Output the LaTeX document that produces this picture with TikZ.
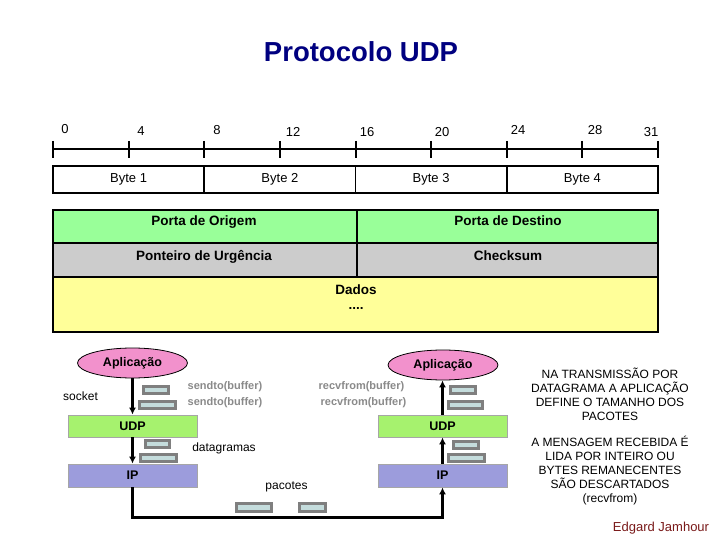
\documentclass[tikz,border=0pt]{standalone}
\usepackage{fontspec}
\setmainfont{Liberation Sans}
\usetikzlibrary{shapes.geometric,arrows.meta}
\definecolor{titleblue}{HTML}{000080}
\definecolor{rowgreen}{HTML}{99FF99}
\definecolor{rowgray}{HTML}{CCCCCC}
\definecolor{rowyellow}{HTML}{FFFF99}
\definecolor{udpgreen}{HTML}{A6F26E}
\definecolor{ipblue}{HTML}{9C9CDC}
\definecolor{apppink}{HTML}{F291CC}
\definecolor{pktfill}{HTML}{C4DCDC}
\definecolor{pktborder}{HTML}{7F7F7F}
\definecolor{callgray}{HTML}{8A8A8A}
\definecolor{authred}{HTML}{7A1A1A}
\tikzset{
  fsz/.style={font=\fontsize{#1}{#1}\selectfont},
  bytebox/.style={draw, line width=1.5pt, minimum width=151.25pt, minimum height=27pt, inner sep=0pt, fsz=13},
  field/.style={draw, line width=1.5pt, minimum height=33pt, inner sep=0pt},
  fieldtxt/.style={inner sep=0pt, text height=9.7pt, text depth=0pt, font=\fontsize{13.5}{14}\selectfont\bfseries},
  layer/.style={draw=gray!70, line width=0.8pt, minimum width=129pt, inner sep=0pt, font=\fontsize{12.5}{12.5}\selectfont\bfseries},
  appnode/.style={ellipse, draw, line width=0.8pt, fill=apppink, minimum width=110pt, minimum height=30pt, inner sep=0pt, font=\fontsize{12.5}{12.5}\selectfont\bfseries},
  pkt/.style={draw=pktborder, line width=3.2pt, fill=pktfill, inner sep=0pt, minimum height=7pt},
  arr/.style={line width=2.4pt, -{Latex[length=7pt,width=7pt]}},
  call/.style={text=callgray, font=\fontsize{11}{11}\selectfont\bfseries},
  plain/.style={fsz=12},
  tick/.style={line width=2pt},
}
\begin{document}
\begin{tikzpicture}[x=1pt,y=-1pt]
\useasboundingbox[fill=white] (0,0) rectangle (720,540);
% title
\node[text=titleblue, inner sep=0pt, text height=19pt, text depth=0pt, font=\fontsize{27.5}{30}\selectfont\bfseries] (title) at (361,52) {Protocolo UDP};
% ruler
\coordinate (r0) at (53,149);
\coordinate (r31) at (658,149);
\draw[line width=1.5pt] (r0) -- (r31);
\foreach \i in {0,...,8} {
  \draw[tick] (53+\i*75.625,141) -- (53+\i*75.625,158);
}
\foreach \lab/\x/\y in {0/65/129,4/141/131,8/217/130,12/293/132,16/367/132,20/442/132,24/518/130,28/595/130,31/651/132} {
  \node[fsz=13] (n\lab) at (\x,\y) {\lab};
}
% bytes
\node[bytebox] (b1) at (128.6,179.5) {Byte 1};
\node[bytebox] (b2) at (279.9,179.5) {Byte 2};
\node[bytebox] (b3) at (431.1,179.5) {Byte 3};
\node[bytebox] (b4) at (582.4,179.5) {Byte 4};
% header fields
\node[field, fill=rowgreen, minimum width=304pt] (po) at (205,226.5) {};
\node[field, fill=rowgreen, minimum width=301pt] (pd) at (507.5,226.5) {};
\node[field, fill=rowgray, minimum width=304pt, minimum height=34pt] (pu) at (205,260) {};
\node[field, fill=rowgray, minimum width=301pt, minimum height=34pt] (ck) at (507.5,260) {};
\node[draw, line width=1.5pt, fill=rowyellow, minimum width=605pt, minimum height=55pt, inner sep=0pt] (dados) at (355.5,304.5) {};
\node[fieldtxt] (tpo) at (204,221) {Porta de Origem};
\node[fieldtxt] (tpd) at (508,221) {Porta de Destino};
\node[fieldtxt] (tpu) at (204,256) {Ponteiro de Urgência};
\node[fieldtxt] (tck) at (508,256) {Checksum};
\node[fieldtxt] (tdados) at (356,290) {Dados};
\node[fieldtxt] (tdots) at (356,305) {....};
% sender stack
\node[appnode] (appL) at (132.5,363) {Aplicação};
\node[layer, fill=udpgreen, minimum height=22pt] (udpL) at (132.5,426) {UDP};
\node[layer, fill=ipblue, minimum height=23pt] (ipL) at (132.5,475.5) {IP};
% receiver stack
\node[appnode] (appR) at (443,365) {Aplicação};
\node[layer, fill=udpgreen, minimum height=22pt] (udpR) at (442.5,426) {UDP};
\node[layer, fill=ipblue, minimum height=23pt] (ipR) at (442.5,475.5) {IP};
% arrows
\draw[arr] (appL.south) -- (appL.south |- udpL.north);
\draw[arr] (udpL.south) -- (udpL.south |- ipL.north);
\draw[arr] (ipL.south) -- ++(0,30) -| (ipR.south);
\draw[arr] (ipR.north) -- (ipR.north |- udpR.south);
\draw[arr] (udpR.north) -- (udpR.north |- appR.south);
% packets
\node[pkt, minimum width=25pt] (pl1) at (156,390) {};
\node[pkt, minimum width=36pt] (pl2) at (157.5,405) {};
\node[pkt, minimum width=24pt] (pl3) at (157.5,444) {};
\node[pkt, minimum width=36pt] (pl4) at (158.5,458) {};
\node[pkt, minimum width=35pt, minimum height=8pt] (pb1) at (254,507.5) {};
\node[pkt, minimum width=26pt, minimum height=8pt] (pb2) at (312.5,507.5) {};
\node[pkt, minimum width=25pt] (pr1) at (463,390) {};
\node[pkt, minimum width=34pt] (pr2) at (465.5,405) {};
\node[pkt, minimum width=25pt] (pr3) at (466,445) {};
\node[pkt, minimum width=36pt] (pr4) at (466.5,458) {};
% labels
\node[call] (s1) at (225,387) {sendto(buffer)};
\node[call] (s2) at (225,403) {sendto(buffer)};
\node[call] (r1) at (361.5,387) {recvfrom(buffer)};
\node[call] (r2) at (363.5,403) {recvfrom(buffer)};
\node[plain] (sock) at (80.5,396) {socket};
\node[plain] (dg) at (224,448) {datagramas};
\node[plain] (pc) at (286.5,487) {pacotes};
% notes
\node[font=\fontsize{12}{14}\selectfont, align=center] (note1) at (610,394) {NA TRANSMISSÃO POR\\DATAGRAMA A APLICAÇÃO\\DEFINE O TAMANHO DOS\\PACOTES};
\node[font=\fontsize{12}{14}\selectfont, align=center] (note2) at (610,471) {A MENSAGEM RECEBIDA É\\LIDA POR INTEIRO OU\\BYTES REMANECENTES\\SÃO DESCARTADOS\\(recvfrom)};
\node[text=authred, fsz=13] (auth) at (661,528) {Edgard Jamhour};
\end{tikzpicture}
\end{document}
